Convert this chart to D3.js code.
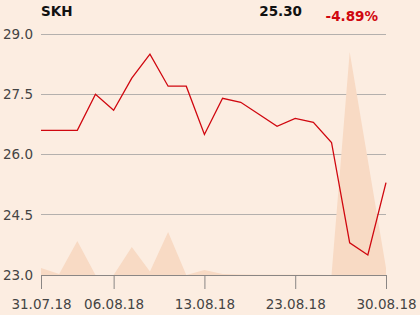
<!DOCTYPE html>
<html><head><meta charset="utf-8">
<script src="https://cdn.jsdelivr.net/npm/d3@7"></script>
<style>
html,body{margin:0;padding:0;background:#fcede1;}
svg{display:block;font-family:"DejaVu Sans",sans-serif;}
</style></head>
<body>
<script>
const dates = ["31.07.18","01.08.18","02.08.18","03.08.18","06.08.18","07.08.18","08.08.18","09.08.18","10.08.18","13.08.18","14.08.18","15.08.18","16.08.18","21.08.18","23.08.18","24.08.18","27.08.18","28.08.18","29.08.18","30.08.18"];
const prices = [26.6,26.6,26.6,27.5,27.1,27.9,28.5,27.7,27.7,26.5,27.4,27.3,27.0,26.7,26.9,26.8,26.3,23.8,23.5,25.3];
const volumes = [7,1,34,0,0,28,3.6,43,0,5,1,0.5,0.3,0.2,0.2,0.2,0,223,115,7];
const xTickLabels = ["31.07.18","06.08.18","13.08.18","23.08.18","30.08.18"];
const yTicks = [23.0,24.5,26.0,27.5,29.0];
const ticker = "SKH", lastPrice = "25.30", change = "-4.89%";

const W=420,H=315, L=41, R=386, T=34, B=275;
const svg=d3.select("body").append("svg").attr("width",W).attr("height",H);
svg.append("rect").attr("width",W).attr("height",H).attr("fill","#fcede1");

const x=d3.scalePoint().domain(dates).range([L,R]);
const y=d3.scaleLinear().domain([23,29]).range([B,T]);
const yv=d3.scaleLinear().domain([0,223]).range([B,B-223]);

// grid
svg.append("g").selectAll("line").data(yTicks.filter(d=>d>23)).join("line")
  .attr("x1",L).attr("x2",R).attr("y1",d=>y(d)).attr("y2",d=>y(d))
  .attr("stroke","#b4b0ad").attr("stroke-width",1).attr("shape-rendering","crispEdges");

// volume area
svg.append("path").datum(volumes)
  .attr("d",d3.area().x((d,i)=>x(dates[i])).y0(B).y1(d=>yv(d)))
  .attr("fill","#f8dac4");

// price line
svg.append("path").datum(prices)
  .attr("d",d3.line().x((d,i)=>x(dates[i])).y(d=>y(d)))
  .attr("fill","none").attr("stroke","#d0070f").attr("stroke-width",1.3);

// x axis
const xa=svg.append("g").attr("transform",`translate(0,${B})`)
  .call(d3.axisBottom(x).tickValues(xTickLabels).tickSize(14).tickSizeOuter(0).tickPadding(10));
xa.select(".domain").attr("stroke","#8a8684").attr("d",`M${L},0.5H${R}`);
xa.selectAll(".tick line").attr("stroke","#8a8684");
xa.selectAll("text").attr("font-size","13.5px").attr("fill","#444").attr("font-family","DejaVu Sans");

// y labels
svg.append("g").selectAll("text").data(yTicks).join("text")
  .attr("x",33).attr("y",d=>y(d)).attr("dy","0.36em").attr("text-anchor","end")
  .attr("font-size","13.5px").attr("fill","#444").text(d=>d.toFixed(1));

// header
svg.append("text").attr("x",41).attr("y",15.7).attr("font-size","13.5px").attr("font-weight","bold").attr("fill","#111").text(ticker);
svg.append("text").attr("x",302).attr("y",15.7).attr("text-anchor","end").attr("font-size","13.5px").attr("font-weight","bold").attr("fill","#111").text(lastPrice);
svg.append("text").attr("x",378).attr("y",21).attr("text-anchor","end").attr("font-size","13.5px").attr("font-weight","bold").attr("fill","#d0070f").text(change);
</script>
</body></html>
